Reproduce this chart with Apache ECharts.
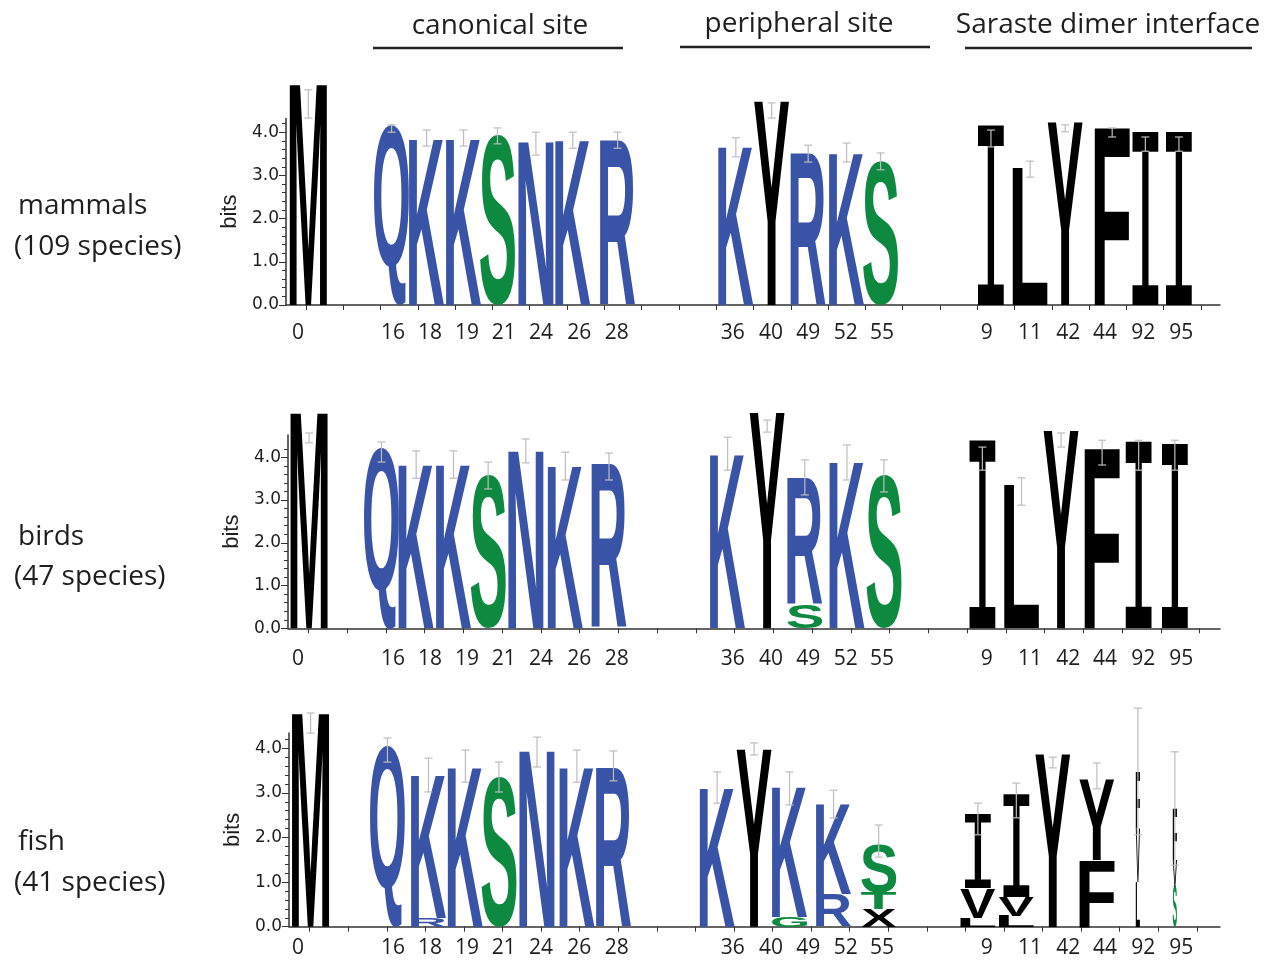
<!DOCTYPE html>
<html>
<head>
<meta charset="utf-8">
<script src="https://cdn.jsdelivr.net/npm/echarts@6.0.0/dist/echarts.min.js"></script>
<style>
html,body{margin:0;padding:0;background:#ffffff;}
#chart{width:1264px;height:962px;}
</style>
</head>
<body>
<div id="chart"></div>
<script>
// ---------------- DATA ----------------
// residue numbers shown under the columns (x tick labels)
const positionLabels = ['0','16','18','19','21','24','26','28','36','40','49','52','55','9','11','42','44','92','95'];
// where each tick label sits, in column-grid units
const labelSlots = [0.40,2.95,3.94,4.93,5.92,6.92,7.94,8.95,12.06,13.08,14.08,15.09,16.06,18.87,20.03,21.05,22.04,23.06,24.08];

// y tick labels (bits)
const yTickValues = [0,1,2,3,4];

// --- mammals (109 species) ---
const mammalsX = [0.68,2.91,3.85,4.84,5.75,6.78,7.77,8.97,12.14,13.10,14.08,15.11,16.02,18.98,20.03,20.97,22.23,23.12,24.02];
const mammalsLetters = ['M','Q','K','K','S','N','K','R','K','Y','R','K','S','I','L','Y','F','I','I'];
const mammalsBits = [[5.14],[4.17],[3.86],[3.86],[3.93],[3.78],[3.82],[3.82],[3.66],[4.72],[3.52],[3.54],[3.33],[4.15],[3.17],[4.24],[4.13],[4.01],[4.00]];
const mammalsErr = [[4.33,4.98],[4.00,4.17],[3.68,4.05],[3.68,4.05],[3.73,4.10],[3.47,4.00],[3.63,4.00],[3.63,4.00],[3.43,3.87],[4.33,4.68],[3.31,3.70],[3.31,3.75],[3.13,3.52],[3.66,4.05],[2.96,3.33],[4.01,4.17],[3.89,4.10],[3.56,3.89],[3.56,3.89]];

// --- birds (47 species) ---
const birdsX = [0.70,2.64,3.57,4.57,5.50,6.51,7.57,8.74,11.92,12.98,13.99,15.12,16.11,18.75,19.80,20.86,21.96,22.94,23.91];
const birdsLetters = ['M','Q','K','K','S','N','K','R','K','Y','SR','K','S','I','L','Y','F','I','I'];
const birdsBits = [[5.07],[4.25],[3.84],[3.84],[3.59],[4.17],[3.80],[3.82],[4.09],[5.05],[0.55,2.96],[3.88],[3.58],[4.40],[3.35],[4.63],[4.23],[4.35],[4.30]];
const birdsErr = [[4.34,4.57],[3.89,4.36],[3.51,4.15],[3.51,4.15],[3.26,3.89],[3.87,4.43],[3.47,4.12],[3.47,4.10],[3.70,4.47],[4.59,4.87],[3.12,3.94],[3.47,4.29],[3.19,3.94],[3.70,4.24],[2.88,3.52],[4.24,4.57],[3.82,4.40],[3.70,4.40],[3.70,4.40]];

// --- fish (41 species) ---
const fishX = [0.74,2.80,3.90,4.89,5.79,6.81,7.88,8.86,11.64,12.63,13.58,14.76,15.97,18.63,19.66,20.64,21.82,22.92,23.91];
const fishLetters = ['M','Q','RK','K','S','N','K','R','K','Y','GK','RK','XTS','LVI','LVI','Y','FY','LVF','SVF'];
const fishBits = [[4.81],[4.07],[0.20,3.21],[3.59],[3.36],[3.96],[3.59],[3.59],[3.13],[3.98],[0.22,2.91],[0.73,2.02],[0.40,0.36,1.08],[0.20,0.67,1.66],[0.25,0.42,2.30],[3.87],[1.50,1.81],[1.00,1.20,1.27],[0.90,0.60,1.16]];
const fishErr = [[4.34,4.79],[3.69,4.23],[3.02,3.78],[3.24,3.96],[3.02,3.69],[3.58,4.25],[3.24,3.96],[3.27,3.94],[2.77,3.47],[3.85,4.12],[2.73,3.47],[2.44,3.06],[1.56,2.28],[2.06,2.77],[2.44,3.22],[3.56,3.80],[3.09,3.67],[2.06,4.90],[1.38,3.92]];
// fraction of sequences with a residue in the column (column width)
const fishOccupancy = [1,1,1,1,1,1,1,1,1,1,1,1,1,1,1,1,1,0.12,0.12];

// ---------------- STYLE / LAYOUT ----------------
const BLUE = '#3953a6', GREEN = '#0d8a40', BLACK = '#000000';
const ERR = '#bdbdbd', AXIS = '#333333', TEXT = '#1e1e1e';
const LETTER_FONT = 'bold 200px "Liberation Sans"';
const I_FONT = '200px "DejaVu Sans Mono"';
const PX_PER_SLOT = 37.3, ORIGIN_PX = 283, RIGHT_PX = 1220;

function colorOf(ch) {
  if ('KRQNH'.indexOf(ch) >= 0) return BLUE;
  if ('STG'.indexOf(ch) >= 0) return GREEN;
  return BLACK;
}
function widthOf(ch) {
  if (ch === 'I') return 0.70;
  if (ch === 'M') return 1.0;
  return 0.94;
}

const panels = [
  {title:['mammals','(109 species)'], titleY:[206,247], letters:mammalsLetters, bits:mammalsBits, err:mammalsErr, xs:mammalsX, occ:null,
   left:286, top:118.4, height:186.6, ymax:4.32, tickStart:0.617, tickStep:0.9997, tickCount:25, labelMargin:18},
  {title:['birds','(47 species)'], titleY:[537,577], letters:birdsLetters, bits:birdsBits, err:birdsErr, xs:birdsX, occ:null,
   left:288, top:435.1, height:193.2, ymax:4.52, tickStart:0.677, tickStep:1.0389, tickCount:24, labelMargin:20},
  {title:['fish','(41 species)'], titleY:[842,883], letters:fishLetters, bits:fishBits, err:fishErr, xs:fishX, occ:fishOccupancy,
   left:289, top:733.1, height:193.6, ymax:4.34, tickStart:0.716, tickStep:1.034, tickCount:24, labelMargin:11}
];

// glyph ink metrics (canvas measurement, textBaseline middle, align left)
const mctx = document.createElement('canvas').getContext('2d');
const mcache = {};
function metrics(ch, font) {
  const key = font + '|' + ch;
  if (mcache[key]) return mcache[key];
  mctx.font = font; mctx.textBaseline = 'middle'; mctx.textAlign = 'left';
  const m = mctx.measureText(ch);
  const r = {L:m.actualBoundingBoxLeft, R:m.actualBoundingBoxRight, A:m.actualBoundingBoxAscent, D:m.actualBoundingBoxDescent};
  mcache[key] = r; return r;
}

function labelFor(v) {
  let best = 0, bd = 1e9;
  labelSlots.forEach(function (s, i) { const d = Math.abs(s - v); if (d < bd) { bd = d; best = i; } });
  return positionLabels[best];
}

const grids = [], xAxes = [], yAxes = [], series = [], graphics = [];
const minorTicks = []; for (let k = 0; k <= 21; k++) minorTicks.push(+(k * 0.2).toFixed(1));

panels.forEach(function (p, i) {
  grids.push({left:p.left, top:p.top, height:p.height, width:RIGHT_PX - p.left, containLabel:false, outerBoundsMode:'none'});
  const ticks = []; for (let k = 0; k < p.tickCount; k++) ticks.push(p.tickStart + k * p.tickStep);
  xAxes.push({
    gridIndex:i, type:'value', min:(p.left - ORIGIN_PX) / PX_PER_SLOT, max:(RIGHT_PX - ORIGIN_PX) / PX_PER_SLOT,
    axisLine:{show:true, onZero:false, lineStyle:{color:AXIS, width:1.5}},
    axisTick:{show:true, customValues:ticks, length:5, lineStyle:{color:AXIS, width:1}},
    axisLabel:{show:true, customValues:labelSlots, formatter:function (v) { return labelFor(v); },
      fontFamily:'Open Sans', fontSize:21, color:TEXT, margin:p.labelMargin},
    splitLine:{show:false}
  });
  yAxes.push({
    gridIndex:i, type:'value', min:0, max:p.ymax, position:'left', offset:0,
    axisLine:{show:true, lineStyle:{color:AXIS, width:1.5}},
    axisTick:{show:true, customValues:minorTicks.filter(function (v) { return v <= p.ymax; }), length:4, lineStyle:{color:AXIS, width:1}},
    axisLabel:{show:true, customValues:yTickValues, formatter:function (v) { return v.toFixed(1); },
      fontFamily:'DejaVu Sans', fontSize:17, color:TEXT, margin:7},
    splitLine:{show:false},
    name:'bits', nameLocation:'middle', nameGap:44, nameRotate:90,
    nameTextStyle:{fontFamily:'Liberation Sans', fontSize:22, color:TEXT}
  });
  yAxes.push({
    gridIndex:i, type:'value', min:0, max:p.ymax, position:'left', offset:0,
    axisLine:{show:false}, axisLabel:{show:false}, splitLine:{show:false},
    axisTick:{show:true, customValues:yTickValues, length:7, lineStyle:{color:AXIS, width:1}}
  });

  // letter items
  const items = [], chars = [];
  p.letters.forEach(function (stack, c) {
    let y = 0;
    const occ = p.occ ? p.occ[c] : 1;
    for (let j = 0; j < stack.length; j++) {
      const ch = stack[j], h = p.bits[c][j];
      items.push([p.xs[c], y, y + h, widthOf(ch) * occ]);
      chars.push(ch);
      y += h;
    }
  });
  series.push({
    type:'custom', xAxisIndex:i, yAxisIndex:2 * i, z:2, silent:true, clip:false, animation:false,
    data:items,
    renderItem:function (params, api) {
      const ch = chars[params.dataIndex];
      const x = api.value(0), y0 = api.value(1), y1 = api.value(2), w = api.value(3);
      const a = api.coord([x - w / 2, y0]), b = api.coord([x + w / 2, y1]);
      const font = ch === 'I' ? I_FONT : LETTER_FONT;
      const m = metrics(ch, font);
      const wpx = b[0] - a[0], hpx = a[1] - b[1];
      if (hpx <= 0.05 || wpx <= 0) return null;
      const sx = wpx / (m.L + m.R), sy = hpx / (m.A + m.D);
      return {
        type:'text', x:a[0] + m.L * sx, y:b[1] + m.A * sy, scaleX:sx, scaleY:sy,
        style:{text:ch, font:font, fill:colorOf(ch), textAlign:'left', textVerticalAlign:'middle', align:'left', verticalAlign:'middle'}
      };
    }
  });
  // error bars
  const errItems = p.err.map(function (e, c) { return [p.xs[c], e[0], e[1]]; });
  series.push({
    type:'custom', xAxisIndex:i, yAxisIndex:2 * i, z:3, silent:true, clip:false, animation:false,
    data:errItems,
    renderItem:function (params, api) {
      const x = api.value(0), lo = api.value(1), hi = api.value(2);
      const p0 = api.coord([x, lo]), p1 = api.coord([x, hi]);
      const st = {stroke:ERR, lineWidth:1.2};
      return {type:'group', children:[
        {type:'line', shape:{x1:p0[0], y1:p0[1], x2:p1[0], y2:p1[1]}, style:st},
        {type:'line', shape:{x1:p0[0] - 4, y1:p0[1], x2:p0[0] + 4, y2:p0[1]}, style:st},
        {type:'line', shape:{x1:p1[0] - 4, y1:p1[1], x2:p1[0] + 4, y2:p1[1]}, style:st}
      ]};
    }
  });

  // row labels
  graphics.push({type:'text', x:18, y:p.titleY[0], silent:true,
    style:{text:p.title[0], font:'28px "Open Sans"', fill:TEXT, textAlign:'left', textVerticalAlign:'middle'}});
  graphics.push({type:'text', x:14, y:p.titleY[1], silent:true,
    style:{text:p.title[1], font:'28px "Open Sans"', fill:TEXT, textAlign:'left', textVerticalAlign:'middle'}});
});

// section headers
const headers = [
  {text:'canonical site', cx:500, cy:26, x1:373, x2:623, ly:48},
  {text:'peripheral site', cx:799, cy:24, x1:680, x2:930, ly:47},
  {text:'Saraste dimer interface', cx:1108, cy:25, x1:965, x2:1252, ly:48}
];
headers.forEach(function (h) {
  graphics.push({type:'text', x:h.cx, y:h.cy, silent:true,
    style:{text:h.text, font:'28px "Open Sans"', fill:TEXT, textAlign:'center', textVerticalAlign:'middle'}});
  graphics.push({type:'line', silent:true, shape:{x1:h.x1, y1:h.ly, x2:h.x2, y2:h.ly}, style:{stroke:'#222', lineWidth:2.5}});
});

const chart = echarts.init(document.getElementById('chart'), null, {renderer:'canvas'});
chart.setOption({
  animation:false,
  backgroundColor:'#ffffff',
  grid:grids, xAxis:xAxes, yAxis:yAxes, series:series,
  graphic:{elements:graphics}
});
</script>
</body>
</html>
